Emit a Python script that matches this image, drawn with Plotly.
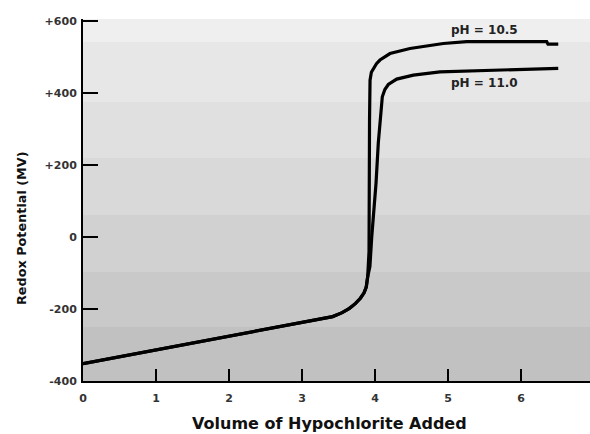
import plotly.graph_objects as go

# Data
vol_105 = [0, 1, 2, 3, 3.2, 3.42, 3.55, 3.65, 3.73, 3.8, 3.85, 3.88, 3.90, 3.918, 3.925, 3.932,
           3.95, 3.977, 4.02, 4.068, 4.205, 4.479, 4.936, 5.256, 6.352, 6.37, 6.51]
mv_105 = [-352, -314, -277, -237, -230, -221, -210, -198, -185, -170, -155, -139, -110, -40, 325,
          436, 458, 469, 482, 492, 510, 524, 538, 543, 543, 536, 536]

vol_110 = [0, 1, 2, 3, 3.2, 3.42, 3.55, 3.65, 3.73, 3.8, 3.85, 3.88, 3.90, 3.93, 3.955, 3.977,
           4.014, 4.045, 4.082, 4.10, 4.135, 4.182, 4.297, 4.525, 4.89, 5.89, 6.51]
mv_110 = [-352, -314, -277, -237, -230, -221, -210, -198, -185, -170, -155, -139, -110, -82, 0,
          56, 150, 261, 361, 390, 410, 424, 439, 450, 459, 464, 469]

y_ticks = [-400, -200, 0, 200, 400, 600]
y_tick_text = ["-400", "-200", "0", "+200", "+400", "+600"]
x_ticks = [0, 1, 2, 3, 4, 5, 6]

band_edges = [606, 542, 375, 222, 61, -97, -250, -400]
band_colors = ["#efefef", "#e7e7e7", "#e0e0e0", "#d9d9d9", "#d1d1d1", "#c9c9c9", "#c1c1c1"]

FONT = "DejaVu Sans"
L, T, B, W, H = 83, 19, 53, 590, 434
PW, PH = W - L, H - T - B


def px_to_paper(px, py):
    return (px - L) / PW, (H - B - py) / PH


fig = go.Figure()
fig.add_trace(go.Scatter(x=vol_105, y=mv_105, mode="lines",
                         line=dict(color="black", width=3.2), showlegend=False))
fig.add_trace(go.Scatter(x=vol_110, y=mv_110, mode="lines",
                         line=dict(color="black", width=3.2), showlegend=False))

shapes = []
for i, c in enumerate(band_colors):
    shapes.append(dict(type="rect", xref="paper", yref="y", x0=0, x1=1,
                       y0=band_edges[i + 1], y1=band_edges[i], fillcolor=c,
                       line=dict(width=0), layer="below"))

xt_x, xt_y = px_to_paper(329, 423)
yt_x, yt_y = px_to_paper(21, 228)

fig.update_layout(
    width=W, height=H,
    margin=dict(l=L, r=0, t=T, b=B),
    paper_bgcolor="white", plot_bgcolor="white",
    shapes=shapes,
    font=dict(family=FONT, color="#222"),
    xaxis=dict(range=[0, 6.945], showgrid=False, zeroline=False,
               showline=True, linecolor="black", linewidth=2,
               ticks="inside", ticklen=12, tickwidth=2, tickcolor="black",
               tickvals=x_ticks, ticktext=[str(v) for v in x_ticks],
               ticklabelstandoff=6,
               tickfont=dict(family=FONT, size=11, color="#333", weight="bold")),
    yaxis=dict(range=[-400, 606], showgrid=False, zeroline=False,
               showline=True, linecolor="black", linewidth=2,
               ticks="inside", ticklen=15, tickwidth=2, tickcolor="black",
               tickvals=y_ticks, ticktext=y_tick_text,
               ticklabelstandoff=2,
               tickfont=dict(family=FONT, size=11, color="#333", weight="bold")),
    annotations=[
        dict(x=5.5, y=606 - (30 - 19) / 0.36, xref="x", yref="y", text="pH = 10.5",
             showarrow=False, font=dict(family=FONT, size=12, color="#222", weight="bold")),
        dict(x=5.5, y=606 - (83 - 19) / 0.36, xref="x", yref="y", text="pH = 11.0",
             showarrow=False, font=dict(family=FONT, size=12, color="#222", weight="bold")),
        dict(x=xt_x, y=xt_y, xref="paper", yref="paper",
             xanchor="center", yanchor="middle", text="Volume of Hypochlorite Added",
             showarrow=False, font=dict(family=FONT, size=16, color="#111", weight="bold")),
        dict(x=yt_x, y=yt_y, xref="paper", yref="paper", textangle=-90,
             xanchor="center", yanchor="middle", text="Redox Potential (MV)",
             showarrow=False, font=dict(family=FONT, size=12.8, color="#111", weight="bold")),
    ],
)

fig.write_html("out.html")
